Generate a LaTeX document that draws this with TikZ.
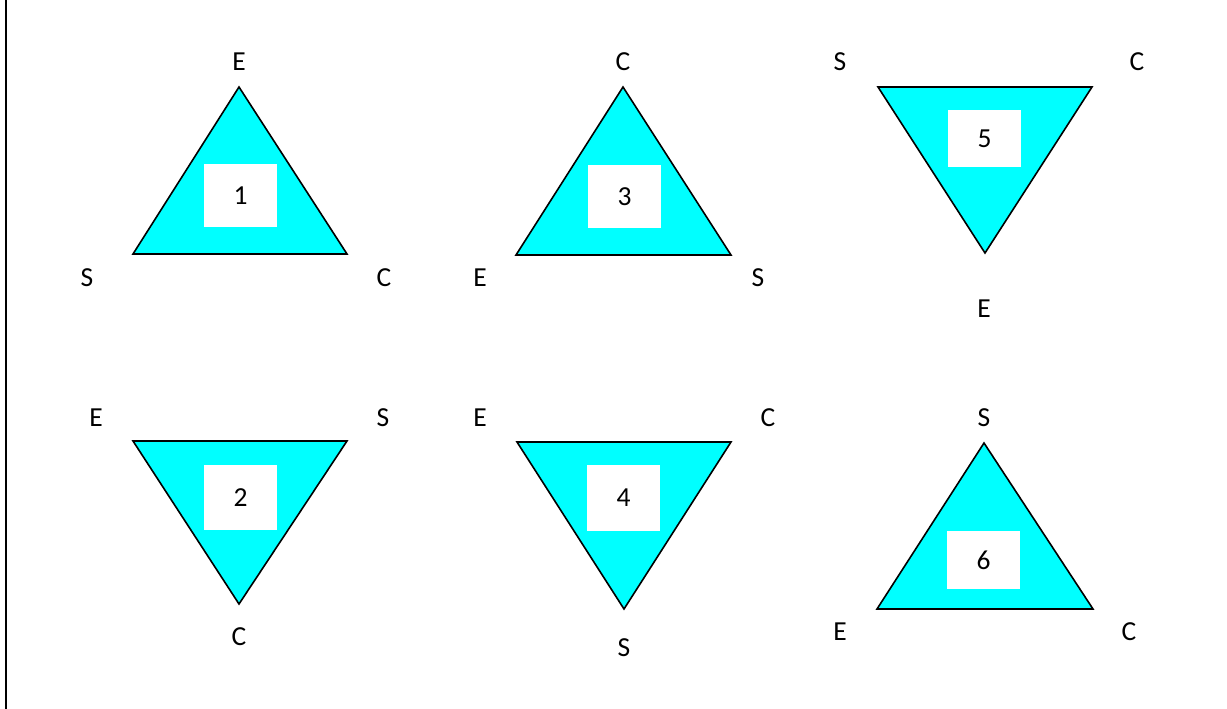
\documentclass[tikz,border=0pt]{standalone}
\usepackage{graphicx}
\usepackage{fontspec}
\setmainfont{Carlito}
\definecolor{aqua}{RGB}{0,255,255}
\newcommand{\lab}[1]{\scalebox{2.75}{#1}}
\begin{document}
\begin{tikzpicture}[x=1pt,y=-1pt,
  tri/.style={fill=aqua,draw=black,line width=1.6pt,line join=miter},
  numbox/.style={fill=white,draw=none,inner sep=0pt},
  lbl/.style={inner sep=0pt}]
\useasboundingbox (0,0) rectangle (1227,709);
\draw[line width=2pt] (5.5,0) -- (5.5,709);
% Triangle 1
\coordinate (t1a) at (239,87); \coordinate (t1b) at (133,254); \coordinate (t1c) at (347,254);
\draw[tri] (t1a) -- (t1b) -- (t1c) -- cycle;
\node[numbox,minimum width=73pt,minimum height=63pt] (n1) at (240.5,195.5) {\lab{1}};
\node[lbl] (l1e) at (239,62) {\lab{E}};
\node[lbl] (l1s) at (87,278) {\lab{S}};
\node[lbl] (l1c) at (384,278) {\lab{C}};
% Triangle 3
\coordinate (t3a) at (623,87); \coordinate (t3b) at (516,255); \coordinate (t3c) at (731,255);
\draw[tri] (t3a) -- (t3b) -- (t3c) -- cycle;
\node[numbox,minimum width=73pt,minimum height=63pt] (n3) at (624.5,196.5) {\lab{3}};
\node[lbl] (l3c) at (623,62) {\lab{C}};
\node[lbl] (l3e) at (480,278) {\lab{E}};
\node[lbl] (l3s) at (758,278) {\lab{S}};
% Triangle 5
\coordinate (t5a) at (878,87); \coordinate (t5b) at (1092,87); \coordinate (t5c) at (985,253);
\draw[tri] (t5a) -- (t5b) -- (t5c) -- cycle;
\node[numbox,minimum width=73pt,minimum height=57pt] (n5) at (984.5,138.5) {\lab{5}};
\node[lbl] (l5s) at (840,62) {\lab{S}};
\node[lbl] (l5c) at (1137,62) {\lab{C}};
\node[lbl] (l5e) at (984,309) {\lab{E}};
% Triangle 2
\coordinate (t2a) at (133,441); \coordinate (t2b) at (347,441); \coordinate (t2c) at (239,604);
\draw[tri] (t2a) -- (t2b) -- (t2c) -- cycle;
\node[numbox,minimum width=73pt,minimum height=65pt] (n2) at (240.5,497.5) {\lab{2}};
\node[lbl] (l2e) at (96,418) {\lab{E}};
\node[lbl] (l2s) at (383,418) {\lab{S}};
\node[lbl] (l2c) at (239,637) {\lab{C}};
% Triangle 4
\coordinate (t4a) at (517,442); \coordinate (t4b) at (731,442); \coordinate (t4c) at (624,609);
\draw[tri] (t4a) -- (t4b) -- (t4c) -- cycle;
\node[numbox,minimum width=73pt,minimum height=66pt] (n4) at (623.5,498) {\lab{4}};
\node[lbl] (l4e) at (480,418) {\lab{E}};
\node[lbl] (l4c) at (768,418) {\lab{C}};
\node[lbl] (l4s) at (624,648) {\lab{S}};
% Triangle 6
\coordinate (t6a) at (984,443); \coordinate (t6b) at (877,609); \coordinate (t6c) at (1093,609);
\draw[tri] (t6a) -- (t6b) -- (t6c) -- cycle;
\node[numbox,minimum width=73pt,minimum height=58pt] (n6) at (983.5,560) {\lab{6}};
\node[lbl] (l6s) at (984,418) {\lab{S}};
\node[lbl] (l6e) at (840,632) {\lab{E}};
\node[lbl] (l6c) at (1129,632) {\lab{C}};
\end{tikzpicture}
\end{document}
